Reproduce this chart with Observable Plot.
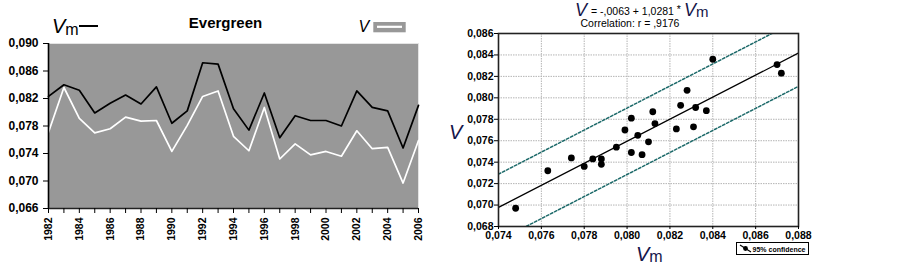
<!DOCTYPE html>
<html><head><meta charset="utf-8">
<script src="https://cdn.jsdelivr.net/npm/d3@7"></script>
<script src="https://cdn.jsdelivr.net/npm/@observablehq/plot@0.6"></script>
<style>
body{margin:0;background:#fff;font-family:Arial,"Liberation Sans",sans-serif;}
#wrap{position:relative;width:902px;height:266px;overflow:hidden;background:#fff;}
#wrap > svg, #wrap > figure{position:absolute;top:0;margin:0;}
</style></head><body><div id="wrap"></div>
<script>
// ---- data ----
const years = [1982,1983,1984,1985,1986,1987,1988,1989,1990,1991,1992,1993,1994,1995,1996,1997,1998,1999,2000,2001,2002,2003,2004,2005,2006];
const vm = [0.0823,0.0840,0.0832,0.0799,0.0813,0.0825,0.0812,0.0837,0.0784,0.0802,0.0872,0.0870,0.0805,0.0774,0.0828,0.0763,0.0795,0.0788,0.0788,0.0780,0.0831,0.0807,0.0802,0.0748,0.0810];
const v  = [0.0771,0.0836,0.0791,0.0770,0.0776,0.0793,0.0787,0.0788,0.0743,0.0781,0.0823,0.0831,0.0765,0.0744,0.0807,0.0732,0.0754,0.0738,0.0743,0.0736,0.0773,0.0747,0.0749,0.0697,0.0759];
const yTicksLeft = [0.066,0.070,0.074,0.078,0.082,0.086,0.090];
const yearLabels = [1982,1984,1986,1988,1990,1992,1994,1996,1998,2000,2002,2004,2006];
const vmTicks = [0.074,0.076,0.078,0.080,0.082,0.084,0.086,0.088];
const vTicks = [0.068,0.070,0.072,0.074,0.076,0.078,0.080,0.082,0.084,0.086];
const regIntercept = -0.0063;
const regSlope = 1.0281;
const correlation = 0.9176;
const bandHalfWidth = 0.0031;
const chartTitle = "Evergreen";
const legendConf = "95% confidence";

// ---- helpers ----
const fmt3 = d => d3.format(".3f")(d).replace(".", ",");
// Statistica style: -,0063  1,0281  ,9176
const fmtCoef = d => {
  const s = Math.abs(d).toFixed(4).replace(/^0\./, ",").replace(".", ",");
  return (d < 0 ? "-" : "") + s;
};
const rows = years.map((year, i) => ({year, vm: vm[i], v: v[i]}));
const fontFam = "Arial, 'Liberation Sans', sans-serif";
const wrap = document.getElementById("wrap");

// ---- left: time series ----
const left = Plot.plot({
  width: 440, height: 266,
  marginLeft: 48, marginRight: 22, marginTop: 43, marginBottom: 58,
  x: {domain: [years[0], years[years.length - 1]]},
  y: {domain: [yTicksLeft[0], yTicksLeft[yTicksLeft.length - 1]]},
  style: {fontFamily: fontFam, background: "transparent", overflow: "visible", color: "#000"},
  marks: [
    Plot.frame({fill: "#989898", stroke: "#e4e4e4", strokeWidth: 1}),
    Plot.line(rows, {x: "year", y: "v", stroke: "#ffffff", strokeWidth: 1.7}),
    Plot.line(rows, {x: "year", y: "vm", stroke: "#000000", strokeWidth: 1.7}),
    Plot.ruleX([years[0]], {stroke: "#000", strokeWidth: 1.6}),
    Plot.ruleY([yTicksLeft[0]], {stroke: "#222", strokeWidth: 1.3}),
    Plot.axisY({ticks: yTicksLeft, tickFormat: fmt3, tickSize: 5, tickPadding: 5, fontSize: 12, fontWeight: "bold", label: null}),
    Plot.axisX({ticks: years, tickFormat: () => "", tickSize: 5, label: null}),
    Plot.axisX({ticks: yearLabels, tickFormat: d => String(d), tickSize: 0, tickRotate: -90, tickPadding: 9, fontSize: 10.5, fontWeight: "bold", label: null})
  ]
});
left.style.left = "0px";
wrap.appendChild(left);

// ---- right: scatter with regression ----
const x0 = vmTicks[0], x1 = vmTicks[vmTicks.length - 1];
const fit = [x0, x1].map(x => {
  const y = regIntercept + regSlope * x;
  return {x, y, hi: y + bandHalfWidth, lo: y - bandHalfWidth};
});
const right = Plot.plot({
  width: 462, height: 266,
  marginLeft: 58, marginRight: 104, marginTop: 33, marginBottom: 40,
  x: {domain: [x0, x1]},
  y: {domain: [vTicks[0], vTicks[vTicks.length - 1]]},
  style: {fontFamily: fontFam, background: "transparent", overflow: "visible", color: "#000"},
  marks: [
    Plot.gridX(vmTicks, {stroke: "#b4b4b4", strokeOpacity: 1, strokeWidth: 1, strokeDasharray: "1.5,1"}),
    Plot.gridY(vTicks, {stroke: "#b4b4b4", strokeOpacity: 1, strokeWidth: 1, strokeDasharray: "1.5,1"}),
    Plot.line(fit, {x: "x", y: "hi", stroke: "#1d6a6a", strokeWidth: 1.5, strokeDasharray: "2.5,2", clip: true}),
    Plot.line(fit, {x: "x", y: "lo", stroke: "#1d6a6a", strokeWidth: 1.5, strokeDasharray: "2.5,2", clip: true}),
    Plot.line(fit, {x: "x", y: "y", stroke: "#000", strokeWidth: 1.3, clip: true}),
    Plot.dot(rows, {x: "vm", y: "v", r: 3.4, fill: "#000", stroke: "none"}),
    Plot.frame({stroke: "#222", strokeWidth: 1.6}),
    Plot.axisY({ticks: vTicks, tickFormat: fmt3, tickSize: 4, tickPadding: 1, fontSize: 10.5, fontWeight: "bold", label: null}),
    Plot.axisX({ticks: vmTicks, tickFormat: fmt3, tickSize: 3, tickPadding: 2, fontSize: 10.5, fontWeight: "bold", label: null})
  ]
});
right.style.left = "440px";
wrap.appendChild(right);

// ---- text overlay: titles and legends ----
const ov = d3.select(wrap).append("svg")
  .attr("width", 902).attr("height", 266)
  .style("position", "absolute").style("left", "0px").style("top", "0px")
  .style("font-family", fontFam).style("pointer-events", "none");

const navy = "#15154a";
function vm_label(g, x, y, sizeV, sizeM, color) {
  const t = g.append("text").attr("x", x).attr("y", y).attr("fill", color);
  t.append("tspan").attr("font-style", "italic").attr("font-size", sizeV).text("V");
  t.append("tspan").attr("font-size", sizeM).attr("dy", 1.5).text("m");
  return t;
}

// left legend Vm —
vm_label(ov, 52, 33.3, 20, 16, "#000");
ov.append("line").attr("x1", 79).attr("x2", 98).attr("y1", 26).attr("y2", 26).attr("stroke", "#000").attr("stroke-width", 2);
// title
ov.append("text").attr("x", 225.5).attr("y", 28).attr("text-anchor", "middle")
  .attr("font-size", 15).attr("font-weight", "bold").attr("fill", "#000").text(chartTitle);
// right legend V + white line in grey box
ov.append("text").attr("x", 358.5).attr("y", 32.3).attr("font-size", 16).attr("font-style", "italic").attr("fill", "#000").text("V");
ov.append("rect").attr("x", 373.3).attr("y", 22).attr("width", 32.4).attr("height", 10.3).attr("fill", "#989898");
ov.append("line").attr("x1", 377).attr("x2", 402).attr("y1", 26.8).attr("y2", 26.8).attr("stroke", "#fff").attr("stroke-width", 2.2);

// scatter equation title
const eq = ov.append("text").attr("x", 575).attr("y", 16).attr("fill", "#000");
eq.append("tspan").attr("font-style", "italic").attr("font-size", 18).attr("fill", navy).text("V");
eq.append("tspan").attr("font-size", 10.5).attr("dx", 4).attr("dy", -1.5)
  .text(`= ${fmtCoef(regIntercept)} + ${fmtCoef(regSlope)} `);
eq.append("tspan").attr("font-size", 10.5).attr("dy", -2).text("*");
eq.append("tspan").attr("font-size", 18).attr("font-style", "italic").attr("dx", 3).attr("dy", 3.5).attr("fill", navy).text("V");
eq.append("tspan").attr("font-size", 15).attr("dy", 1).attr("fill", navy).text("m");
ov.append("text").attr("x", 630).attr("y", 26.5).attr("text-anchor", "middle").attr("font-size", 10.5).attr("fill", "#000")
  .text(`Correlation: r = ${fmtCoef(correlation)}`);

// axis titles
ov.append("text").attr("x", 449).attr("y", 139).attr("font-size", 20).attr("font-style", "italic").attr("fill", navy).text("V");
vm_label(ov, 636, 260.7, 20, 16, navy);

// confidence legend box
const lg = ov.append("g");
lg.append("rect").attr("x", 736.5).attr("y", 242.5).attr("width", 72).attr("height", 12).attr("fill", "#fff").attr("stroke", "#000").attr("stroke-width", 1);
lg.append("line").attr("x1", 740).attr("y1", 245).attr("x2", 751).attr("y2", 252).attr("stroke", "#000").attr("stroke-width", 1.2);
lg.append("circle").attr("cx", 745.5).attr("cy", 248.5).attr("r", 2.4).attr("fill", "#000");
lg.append("text").attr("x", 752.5).attr("y", 251.5).attr("font-size", 7.5).attr("font-weight", "bold").attr("fill", "#000")
  .attr("textLength", 53).attr("lengthAdjust", "spacingAndGlyphs").text(legendConf);
</script></body></html>
